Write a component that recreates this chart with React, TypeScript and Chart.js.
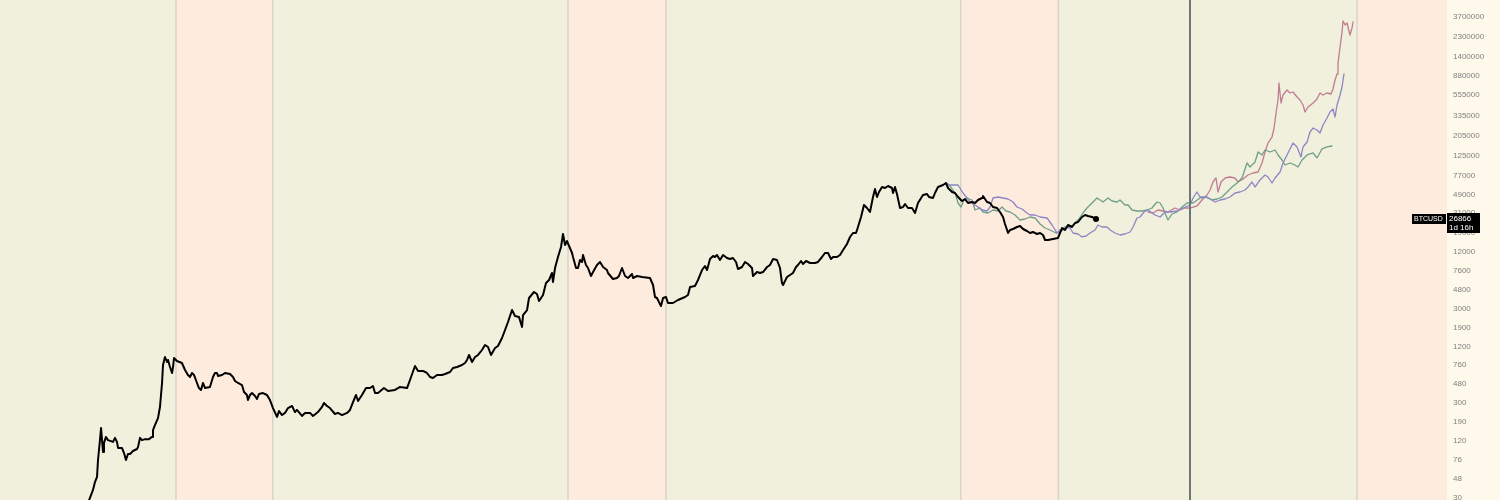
import React, { useEffect, useRef } from "react";
import { Chart, registerables } from "chart.js";

Chart.register(...registerables);

// ---------- DATA ----------
// BTCUSD (decimal year, price)
const btcDates = [
  2013.106, 2013.157, 2013.177, 2013.198, 2013.208, 2013.228, 2013.239, 2013.259, 2013.269, 2013.289,
  2013.310, 2013.361, 2013.381, 2013.401, 2013.412, 2013.452, 2013.473, 2013.493, 2013.513, 2013.534,
  2013.564, 2013.605, 2013.615, 2013.636, 2013.656, 2013.687, 2013.727, 2013.758, 2013.768, 2013.788,
  2013.819, 2013.839, 2013.860, 2013.870, 2013.890, 2013.911, 2013.921, 2013.941, 2013.962, 2013.972,
  2013.982, 2014.012, 2014.063, 2014.094, 2014.124, 2014.145, 2014.165, 2014.186, 2014.216, 2014.236,
  2014.257, 2014.277, 2014.298, 2014.348, 2014.379, 2014.399, 2014.420, 2014.430, 2014.471, 2014.501,
  2014.552, 2014.583, 2014.603, 2014.634, 2014.674, 2014.695, 2014.725, 2014.735, 2014.756, 2014.776,
  2014.807, 2014.827, 2014.847, 2014.888, 2014.929, 2014.959, 2014.990, 2015.031, 2015.051, 2015.082,
  2015.112, 2015.143, 2015.184, 2015.214, 2015.234, 2015.285, 2015.316, 2015.367, 2015.397, 2015.448,
  2015.489, 2015.509, 2015.540, 2015.570, 2015.621, 2015.652, 2015.693, 2015.744, 2015.774, 2015.805,
  2015.835, 2015.856, 2015.896, 2015.937, 2015.978, 2016.008, 2016.029, 2016.059, 2016.120, 2016.161,
  2016.232, 2016.263, 2016.283, 2016.355, 2016.385, 2016.436, 2016.467, 2016.518, 2016.558, 2016.589,
  2016.619, 2016.660, 2016.711, 2016.742, 2016.793, 2016.823, 2016.864, 2016.915, 2016.945, 2016.966,
  2016.986, 2017.017, 2017.047, 2017.078, 2017.118, 2017.149, 2017.180, 2017.210, 2017.251, 2017.281,
  2017.322, 2017.353, 2017.383, 2017.424, 2017.454, 2017.495, 2017.526, 2017.536, 2017.577, 2017.597,
  2017.648, 2017.678, 2017.699, 2017.740, 2017.770, 2017.801, 2017.831, 2017.841, 2017.862, 2017.892,
  2017.923, 2017.943, 2017.964, 2017.984, 2018.035, 2018.045, 2018.076, 2018.096, 2018.116, 2018.137,
  2018.147, 2018.177, 2018.198, 2018.228, 2018.249, 2018.289, 2018.320, 2018.351, 2018.391, 2018.401,
  2018.452, 2018.493, 2018.513, 2018.544, 2018.575, 2018.605, 2018.646, 2018.656, 2018.697, 2018.748,
  2018.829, 2018.860, 2018.880, 2018.900, 2018.941, 2018.962, 2018.992, 2019.012, 2019.063, 2019.114,
  2019.186, 2019.216, 2019.237, 2019.287, 2019.318, 2019.359, 2019.389, 2019.410, 2019.440, 2019.471,
  2019.491, 2019.511, 2019.542, 2019.573, 2019.613, 2019.644, 2019.674, 2019.705, 2019.725, 2019.766,
  2019.797, 2019.827, 2019.868, 2019.878, 2019.919, 2019.949, 2019.980, 2020.021, 2020.051, 2020.082,
  2020.122, 2020.153, 2020.173, 2020.184, 2020.224, 2020.255, 2020.285, 2020.316, 2020.336, 2020.367,
  2020.387, 2020.418, 2020.459, 2020.509, 2020.540, 2020.581, 2020.611, 2020.642, 2020.672, 2020.693,
  2020.733, 2020.764, 2020.795, 2020.835, 2020.866, 2020.896, 2020.927, 2020.947, 2020.978, 2021.008,
  2021.039, 2021.069, 2021.100, 2021.120, 2021.141, 2021.161, 2021.192, 2021.222, 2021.253, 2021.293,
  2021.304, 2021.324, 2021.344, 2021.375, 2021.406, 2021.426, 2021.456, 2021.497, 2021.528, 2021.558,
  2021.609, 2021.650, 2021.670, 2021.711, 2021.731, 2021.762, 2021.813, 2021.843, 2021.864, 2021.905,
  2021.935, 2021.966, 2022.006, 2022.037, 2022.067, 2022.108, 2022.139, 2022.169, 2022.210, 2022.220,
  2022.261, 2022.292, 2022.322, 2022.363, 2022.393, 2022.424, 2022.444, 2022.465, 2022.475, 2022.495,
  2022.526, 2022.566, 2022.597, 2022.628, 2022.668, 2022.699, 2022.729, 2022.770, 2022.801, 2022.831,
  2022.852, 2022.882, 2022.933, 2022.984, 2023.025, 2023.055, 2023.086, 2023.127, 2023.157, 2023.188,
  2023.228, 2023.259, 2023.289, 2023.330, 2023.371,
];
const btcPrices = [
  26.3, 36.2, 43.9, 49.7, 75.2, 122, 164, 91.3, 114, 132,
  122, 117, 129, 117, 101, 101, 89.1, 75.2, 87.0, 87.0,
  93.6, 98.3, 103, 129, 122, 125, 125, 132, 156, 176,
  209, 274, 492, 763, 927, 821, 862, 726, 628, 726,
  905, 841, 801, 675, 598, 569, 628, 598, 492, 435,
  415, 492, 435, 446, 569, 628, 628, 583, 598, 628,
  612, 569, 516, 492, 468, 395, 367, 325, 367, 385,
  358, 333, 376, 385, 367, 325, 267, 215, 248, 225,
  237, 267, 281, 242, 255, 220, 237, 237, 220, 242,
  274, 302, 281, 267, 231, 237, 225, 237, 255, 309,
  367, 317, 367, 435, 435, 457, 385, 385, 435, 405,
  415, 435, 446, 435, 529, 744, 659, 659, 628, 569,
  555, 598, 598, 612, 643, 709, 726, 763, 801, 862,
  974, 821, 927, 974, 1100, 1243, 1184, 974, 1155, 1213,
  1474, 1791, 2177, 2917, 2520, 2459, 1927, 2582, 2917, 3910,
  4527, 4311, 3634, 4207, 5638, 6066, 7193, 5777, 8127, 10630,
  13560, 18630, 14240, 15700, 11720, 10630, 8127, 8127, 9880, 9410,
  11160, 8745, 8127, 6686, 7372, 8745, 9410, 8329, 7740, 7193,
  6214, 6368, 6686, 8127, 6686, 6368, 7020, 6368, 6686, 6525,
  6368, 5369, 4007, 3910, 3217, 3910, 4007, 3461, 3461, 3724,
  4007, 4207, 5114, 5240, 6066, 7740, 8534, 7740, 10120, 10890,
  10630, 11160, 9880, 11160, 10370, 10120, 10370, 9410, 7932, 8329,
  9410, 8961, 8127, 6686, 7372, 7193, 7372, 8329, 8745, 10120,
  9880, 8127, 5638, 5369, 6525, 6851, 7193, 8329, 8745, 9642,
  8961, 9642, 9182, 9182, 9410, 10630, 11720, 11720, 10120, 10630,
  10630, 11160, 12610, 14590, 17320, 19090, 19090, 22100, 28200, 37790,
  35120, 31860, 45930, 55830, 45930, 51890, 58620, 57210, 60070, 57210,
  50630, 58620, 49410, 35120, 35990, 38720, 35120, 35120, 31090, 39680,
  48220, 49410, 45930, 44820, 50630, 58620, 61550, 64630, 57210, 51890,
  50630, 45930, 41660, 43740, 39680, 40660, 39680, 42690, 44820, 47060,
  40660, 39680, 35990, 35120, 31860, 28200, 23770, 20540, 19090, 20540,
  21040, 22100, 22640, 21040, 20040, 19090, 19560, 18630, 19090, 18180,
  16090, 16090, 16490, 16900, 21560, 20540, 23200, 22100, 24360, 24960,
  28200, 29610, 28890, 28200, 26866,
];

// Projection paths
const purpleDates = [
  2021.843, 2021.884, 2021.966, 2022.017, 2022.088, 2022.169, 2022.210, 2022.261, 2022.292, 2022.322,
  2022.373, 2022.424, 2022.475, 2022.526, 2022.566, 2022.617, 2022.668, 2022.699, 2022.750, 2022.801,
  2022.872, 2022.923, 2022.974, 2023.004, 2023.055, 2023.106, 2023.137, 2023.188, 2023.228, 2023.269,
  2023.310, 2023.361, 2023.391, 2023.432, 2023.483, 2023.514, 2023.564, 2023.615, 2023.666, 2023.717,
  2023.748, 2023.788, 2023.819, 2023.860, 2023.900, 2023.972, 2024.023, 2024.074, 2024.125, 2024.196,
  2024.257, 2024.328, 2024.359, 2024.399, 2024.430, 2024.481, 2024.532, 2024.583, 2024.634, 2024.685,
  2024.735, 2024.786, 2024.837, 2024.888, 2024.919, 2024.960, 2024.990, 2025.041, 2025.092, 2025.122,
  2025.163, 2025.194, 2025.245, 2025.275, 2025.326, 2025.377, 2025.418, 2025.458, 2025.479, 2025.520,
  2025.550, 2025.581, 2025.621, 2025.652, 2025.683, 2025.723, 2025.754, 2025.784, 2025.805, 2025.825,
  2025.856, 2025.876, 2025.896,
];
const purplePrices = [
  64630, 61550, 61550, 50630, 40660, 35990, 33450, 32640, 35990, 44820,
  45930, 44820, 43740, 40660, 35990, 34270, 31090, 29610, 29610, 28200,
  27520, 23200, 19090, 20540, 22100, 21560, 19090, 18630, 17320, 17740,
  19090, 20540, 23200, 22100, 22100, 20540, 19090, 18180, 18630, 19560,
  22100, 27520, 28200, 31860, 33450, 29610, 28200, 31860, 31860, 32640,
  35120, 37790, 44820, 51890, 45930, 45930, 43740, 40660, 42690, 43740,
  45930, 50630, 51890, 54480, 58620, 66230, 58620, 69540, 78550, 74820,
  64630, 73010, 84530, 105300, 134400, 171500, 155600, 121900, 155600, 175700,
  224200, 247200, 235400, 218800, 266000, 315500, 365200, 392900, 323300, 433200,
  552800, 672000, 922800,
];

const greenDates = [
  2021.843, 2021.884, 2021.935, 2021.966, 2021.996, 2022.027, 2022.057, 2022.108, 2022.139, 2022.190,
  2022.220, 2022.271, 2022.322, 2022.373, 2022.414, 2022.454, 2022.495, 2022.546, 2022.597, 2022.648,
  2022.699, 2022.750, 2022.801, 2022.852, 2022.902, 2022.964, 2023.004, 2023.076, 2023.137, 2023.188,
  2023.238, 2023.279, 2023.310, 2023.340, 2023.381, 2023.412, 2023.442, 2023.493, 2023.534, 2023.585,
  2023.615, 2023.666, 2023.697, 2023.738, 2023.788, 2023.839, 2023.890, 2023.941, 2023.992, 2024.023,
  2024.053, 2024.094, 2024.104, 2024.145, 2024.196, 2024.247, 2024.298, 2024.359, 2024.430, 2024.501,
  2024.552, 2024.603, 2024.654, 2024.705, 2024.756, 2024.807, 2024.858, 2024.909, 2024.939, 2024.990,
  2025.021, 2025.061, 2025.092, 2025.143, 2025.194, 2025.224, 2025.265, 2025.296, 2025.347, 2025.397,
  2025.428, 2025.469, 2025.520, 2025.581, 2025.621, 2025.672, 2025.723, 2025.774,
];
const greenPrices = [
  64630, 60070, 50630, 39680, 35990, 42690, 44820, 42690, 33450, 35120,
  31860, 31090, 33450, 32640, 35990, 32640, 31860, 29610, 26210, 26850,
  28200, 27520, 23770, 21560, 20540, 19090, 19560, 22100, 23200, 26210,
  31090, 35120, 37790, 40660, 44820, 42690, 40660, 44820, 41660, 40660,
  42690, 37790, 37790, 33450, 32640, 32640, 33450, 35120, 40660, 39680,
  35120, 27520, 26210, 30340, 31860, 35990, 39680, 39680, 44820, 45930,
  42690, 43740, 45930, 51890, 58620, 64630, 73010, 105300, 95500, 107900,
  137700, 128000, 144600, 137700, 144600, 128000, 113300, 100300, 105300, 100300,
  95500, 113300, 128000, 134400, 119000, 148200, 155600, 159400,
];

const pinkDates = [
  2023.900, 2023.951, 2024.002, 2024.053, 2024.104, 2024.175, 2024.226, 2024.277, 2024.328, 2024.399,
  2024.450, 2024.501, 2024.532, 2024.562, 2024.593, 2024.613, 2024.644, 2024.685, 2024.735, 2024.786,
  2024.817, 2024.868, 2024.919, 2024.970, 2025.021, 2025.061, 2025.092, 2025.122, 2025.163, 2025.184,
  2025.204, 2025.224, 2025.234, 2025.255, 2025.275, 2025.316, 2025.347, 2025.377, 2025.418, 2025.448,
  2025.479, 2025.499, 2025.530, 2025.581, 2025.621, 2025.652, 2025.683, 2025.723, 2025.764, 2025.784,
  2025.805, 2025.825, 2025.835, 2025.856, 2025.876, 2025.886, 2025.907, 2025.927, 2025.937, 2025.957,
  2025.978, 2025.988,
];
const pinkPrices = [
  31860, 31090, 33450, 32640, 31860, 35120, 33450, 35120, 35120, 36880,
  42690, 48220, 54480, 66230, 73010, 51890, 66230, 73010, 74820, 73010,
  66230, 71260, 78550, 82480, 84530, 105300, 137700, 171500, 198400, 247200,
  356400, 489400, 740900, 454900, 552800, 624600, 580500, 594900, 526500, 489400,
  433200, 365200, 412600, 454900, 501400, 580500, 552800, 580500, 566500, 640000,
  797200, 922800, 1206800, 1783000, 2571000, 3361000, 3048000, 3201000, 2903000, 2389000,
  2833000, 3280000,
];

// Price axis labels
const yTickValues = [
  30, 48, 76, 120, 190, 300, 480, 760, 1200, 1900, 3000, 4800, 7600, 12000, 19000,
  31000, 49000, 77000, 125000, 205000, 335000, 555000, 880000, 1400000, 2300000, 3700000, 6000000,
];

// Bear-year shaded periods (start, end) and halving marker
const bearStarts = [2014.002, 2017.994, 2021.993, 2026.029];
const bearEnds = [2014.987, 2018.992, 2022.987, 2027.5];
const halvingDate = 2024.328;

const symbolName = "BTCUSD";
const countdownText = "1d 16h";

// ---------- STYLE ----------
const X_MIN = 2012.21;
const X_MAX = 2026.945;
const Y_MIN = 28.34;
const Y_MAX = 5610000;
const AXIS_WIDTH = 53;

const PANEL_BG = "#fef9ea";
const BULL_BG = "#f0f0dd";
const BEAR_BG = "#fdebdd";
const SEP_COLOR = "rgba(185,180,180,0.45)";
const HALVING_COLOR = "#6c7676";

const toPoints = (xs: number[], ys: number[]) => xs.map((x, i) => ({ x, y: ys[i] }));

const backgroundPlugin = {
  id: "bands",
  beforeDraw(chart: any) {
    const { ctx, chartArea: a, scales } = chart;
    const xs = scales.x;
    ctx.save();
    ctx.fillStyle = PANEL_BG;
    ctx.fillRect(0, 0, chart.width, chart.height);
    ctx.fillStyle = BULL_BG;
    ctx.fillRect(a.left, a.top, a.right - a.left, a.bottom - a.top);
    ctx.fillStyle = BEAR_BG;
    bearStarts.forEach((s, i) => {
      const x0 = Math.max(a.left, xs.getPixelForValue(s));
      const x1 = Math.min(a.right, xs.getPixelForValue(bearEnds[i]));
      if (x1 > x0) ctx.fillRect(x0, a.top, x1 - x0, a.bottom - a.top);
    });
    ctx.strokeStyle = SEP_COLOR;
    ctx.lineWidth = 1.5;
    [...bearStarts, ...bearEnds].forEach((d) => {
      const px = xs.getPixelForValue(d);
      if (px > a.left && px < a.right) {
        ctx.beginPath();
        ctx.moveTo(px, a.top);
        ctx.lineTo(px, a.bottom);
        ctx.stroke();
      }
    });
    ctx.restore();
  },
  afterDatasetsDraw(chart: any) {
    const { ctx, chartArea: a, scales } = chart;
    const px = Math.round(scales.x.getPixelForValue(halvingDate));
    ctx.save();
    ctx.strokeStyle = HALVING_COLOR;
    ctx.lineWidth = 2;
    ctx.beginPath();
    ctx.moveTo(px, a.top);
    ctx.lineTo(px, a.bottom);
    ctx.stroke();
    ctx.restore();
  },
  afterDraw(chart: any) {
    const { ctx, chartArea: a, scales } = chart;
    const last = btcPrices[btcPrices.length - 1];
    const py = Math.round(scales.y.getPixelForValue(last));
    const r = a.right;
    ctx.save();
    ctx.fillStyle = "#000";
    ctx.fillRect(r - 35, py - 5, 34, 10);
    ctx.fillRect(r, py - 6, 33, 20);
    ctx.fillStyle = "#fff";
    ctx.textBaseline = "middle";
    ctx.textAlign = "left";
    ctx.font = '7px "Liberation Sans", Arial, sans-serif';
    ctx.fillText(symbolName, r - 33, py + 0.5);
    ctx.font = '8px "Liberation Sans", Arial, sans-serif';
    ctx.fillText(String(last), r + 2, py - 0.5);
    ctx.fillText(countdownText, r + 2, py + 8.5);
    ctx.restore();
  },
};

export default function App() {
  const canvasRef = useRef<HTMLCanvasElement | null>(null);

  useEffect(() => {
    document.body.style.margin = "0";
    const canvas = canvasRef.current;
    if (!canvas) return;
    const chart = new Chart(canvas, {
      type: "line",
      data: {
        datasets: [
          {
            label: "BTCUSD",
            data: toPoints(btcDates, btcPrices),
            borderColor: "#000000",
            backgroundColor: "#000000",
            borderWidth: 2,
            pointRadius: (c: any) => (c.dataIndex === btcPrices.length - 1 ? 3 : 0),
            pointBorderWidth: 0,
          },
          {
            label: "Projection A",
            data: toPoints(purpleDates, purplePrices),
            borderColor: "#8d86c4",
            borderWidth: 1.3,
            pointRadius: 0,
          },
          {
            label: "Projection B",
            data: toPoints(greenDates, greenPrices),
            borderColor: "#6e9f88",
            borderWidth: 1.3,
            pointRadius: 0,
          },
          {
            label: "Projection C",
            data: toPoints(pinkDates, pinkPrices),
            borderColor: "#c27c92",
            borderWidth: 1.3,
            pointRadius: 0,
          },
        ],
      },
      options: {
        animation: false,
        responsive: false,
        devicePixelRatio: 1,
        events: [],
        layout: { padding: 0, autoPadding: false },
        elements: { line: { tension: 0, borderJoinStyle: "round", borderCapStyle: "round" } },
        plugins: { legend: { display: false }, tooltip: { enabled: false } },
        scales: {
          x: { type: "linear", min: X_MIN, max: X_MAX, bounds: "data", display: false },
          y: {
            type: "logarithmic",
            position: "right",
            min: Y_MIN,
            max: Y_MAX,
            bounds: "data",
            grid: { display: false, drawTicks: false },
            border: { display: false },
            ticks: {
              autoSkip: false,
              padding: 6,
              color: "#808080",
              font: { size: 8, family: '"Liberation Sans", Arial, sans-serif' },
              callback: (v: any) => String(v),
            },
            afterBuildTicks: (s: any) => {
              s.ticks = yTickValues.map((v) => ({ value: v }));
            },
            afterFit: (s: any) => {
              s.width = AXIS_WIDTH;
              s.paddingTop = 0;
              s.paddingBottom = 0;
            },
          },
        },
      } as any,
      plugins: [backgroundPlugin],
    });
    return () => chart.destroy();
  }, []);

  return (
    <div style={{ position: "fixed", left: 0, top: 0, width: 1500, height: 500 }}>
      <canvas ref={canvasRef} width={1500} height={500} style={{ display: "block" }} />
    </div>
  );
}
